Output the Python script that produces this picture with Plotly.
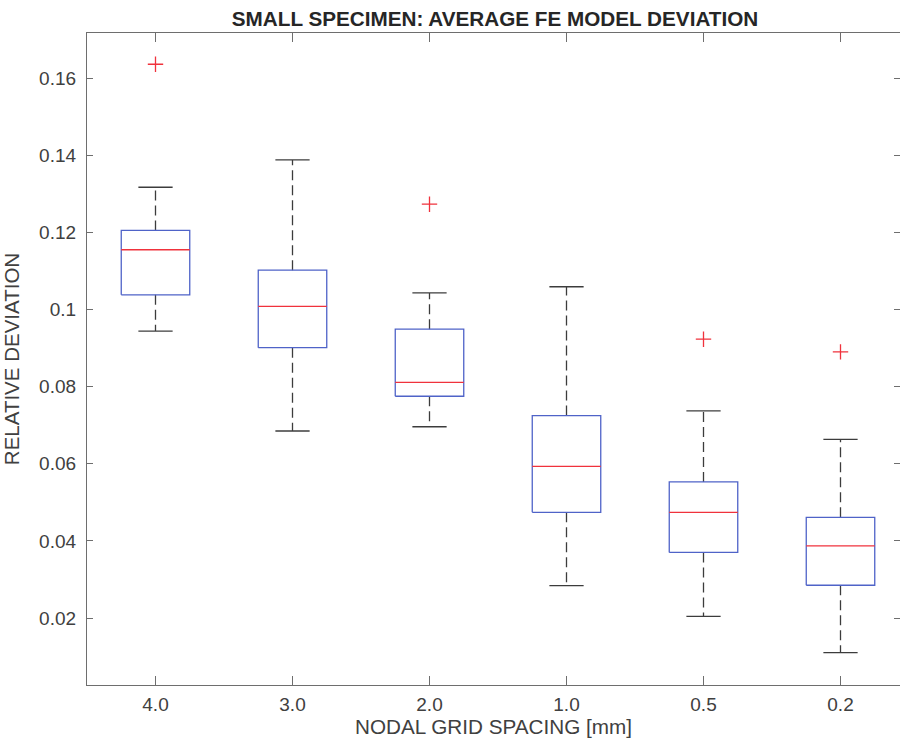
import plotly.graph_objects as go

# ---- data ----
categories = ["4.0", "3.0", "2.0", "1.0", "0.5", "0.2"]
q1 = [0.1038, 0.0901, 0.0775, 0.0474, 0.0370, 0.0285]
median = [0.1155, 0.1008, 0.0811, 0.0593, 0.0474, 0.0387]
q3 = [0.1205, 0.1102, 0.0949, 0.0725, 0.0553, 0.0461]
lower_whisker = [0.0944, 0.0685, 0.0696, 0.0284, 0.0204, 0.0110]
upper_whisker = [0.1317, 0.1388, 0.1043, 0.1059, 0.0737, 0.0663]
outlier_cat = ["4.0", "2.0", "0.5", "0.2"]
outlier_val = [0.1636, 0.1273, 0.0923, 0.0890]
y_tickvals = [0.02, 0.04, 0.06, 0.08, 0.10, 0.12, 0.14, 0.16]
y_ticktext = ["0.02", "0.04", "0.06", "0.08", "0.1", "0.12", "0.14", "0.16"]

# ---- styling ----
BOX_HALF = 0.25
CAP_HALF = 0.125
BLUE = "#4f63c8"
RED = "#f0323c"
WHISK = "#3c3c3c"
AXIS = "#6e6e6e"
FONT = "Arial, Liberation Sans, sans-serif"

pos = {c: i + 1 for i, c in enumerate(categories)}

box_x, box_y = [], []
med_x, med_y = [], []
wh_x, wh_y = [], []
cap_x, cap_y = [], []
for c, a, m, b, lo, hi in zip(categories, q1, median, q3, lower_whisker, upper_whisker):
    p = pos[c]
    box_x += [p - BOX_HALF, p + BOX_HALF, p + BOX_HALF, p - BOX_HALF, p - BOX_HALF, None]
    box_y += [a, a, b, b, a, None]
    med_x += [p - BOX_HALF, p + BOX_HALF, None]
    med_y += [m, m, None]
    wh_x += [p, p, None, p, p, None]
    wh_y += [b, hi, None, a, lo, None]
    cap_x += [p - CAP_HALF, p + CAP_HALF, None, p - CAP_HALF, p + CAP_HALF, None]
    cap_y += [hi, hi, None, lo, lo, None]

fig = go.Figure()
fig.add_trace(go.Scatter(x=wh_x, y=wh_y, mode="lines",
                         line=dict(color=WHISK, width=1.3, dash="10px,5px"),
                         showlegend=False, hoverinfo="skip"))
fig.add_trace(go.Scatter(x=cap_x, y=cap_y, mode="lines",
                         line=dict(color=WHISK, width=1.3),
                         showlegend=False, hoverinfo="skip"))
fig.add_trace(go.Scatter(x=box_x, y=box_y, mode="lines",
                         line=dict(color=BLUE, width=1.3),
                         showlegend=False, hoverinfo="skip"))
fig.add_trace(go.Scatter(x=med_x, y=med_y, mode="lines",
                         line=dict(color=RED, width=1.3),
                         showlegend=False, hoverinfo="skip"))
fig.add_trace(go.Scatter(x=[pos[c] for c in outlier_cat], y=outlier_val, mode="markers",
                         marker=dict(symbol="cross-thin", size=11,
                                     line=dict(color=RED, width=1.3)),
                         showlegend=False, hoverinfo="skip"))
# dummy trace to anchor the right-hand tick axis
fig.add_trace(go.Scatter(x=[None], y=[None], yaxis="y2", showlegend=False, hoverinfo="skip"))

W, H = 900, 743
L, R, T, B = 87, 0, 33, 58
unit_px = 137.0
x_lo = 0.5
x_hi = x_lo + (W - L - R) / unit_px

fig.update_layout(
    width=W, height=H, autosize=False,
    margin=dict(l=L, r=R, t=T, b=B, autoexpand=False),
    paper_bgcolor="white", plot_bgcolor="white",
    font=dict(family=FONT, color="#404040"),
    title=dict(text="<b>SMALL SPECIMEN: AVERAGE FE MODEL DEVIATION</b>",
               font=dict(family=FONT, size=20.7, color="#262626"),
               xref="container", x=495 / W, xanchor="center",
               yref="container", y=1 - 19 / H, yanchor="middle"),
    xaxis=dict(range=[x_lo, x_hi], tickmode="array", automargin=False,
               tickvals=[pos[c] for c in categories], ticktext=categories,
               showline=True, linecolor=AXIS, linewidth=1.2, mirror="ticks",
               ticks="inside", ticklen=9, tickcolor=AXIS, tickwidth=1.2,
               showgrid=False, zeroline=False, ticklabelstandoff=2,
               tickfont=dict(size=19, color="#404040"),
               title=dict(text="NODAL GRID SPACING [mm]",
                          font=dict(size=20.7, color="#404040"), standoff=0)),
    yaxis=dict(range=[0.00263, 0.1717], tickmode="array", automargin=False,
               tickvals=y_tickvals, ticktext=y_ticktext,
               showline=True, linecolor=AXIS, linewidth=1.2, mirror=False,
               ticks="inside", ticklen=6, tickcolor=AXIS, tickwidth=1.2,
               showgrid=False, zeroline=False, ticklabelstandoff=6,
               tickfont=dict(size=19, color="#404040"),
               title=dict(text="RELATIVE DEVIATION",
                          font=dict(size=20.5, color="#404040"), standoff=13)),
    yaxis2=dict(overlaying="y", matches="y", side="right", anchor="x", automargin=False,
                tickmode="array", tickvals=y_tickvals,
                showline=False, ticks="inside", ticklen=6, tickcolor=AXIS, tickwidth=1.2,
                showticklabels=False, showgrid=False, zeroline=False),
)

fig.write_html(
    "out.html",
    config={"responsive": False, "displayModeBar": False},
    post_script=(
        "document.documentElement.style.overflow='hidden';"
        "document.body.style.margin='0';document.body.style.overflow='hidden';"
    ),
)
